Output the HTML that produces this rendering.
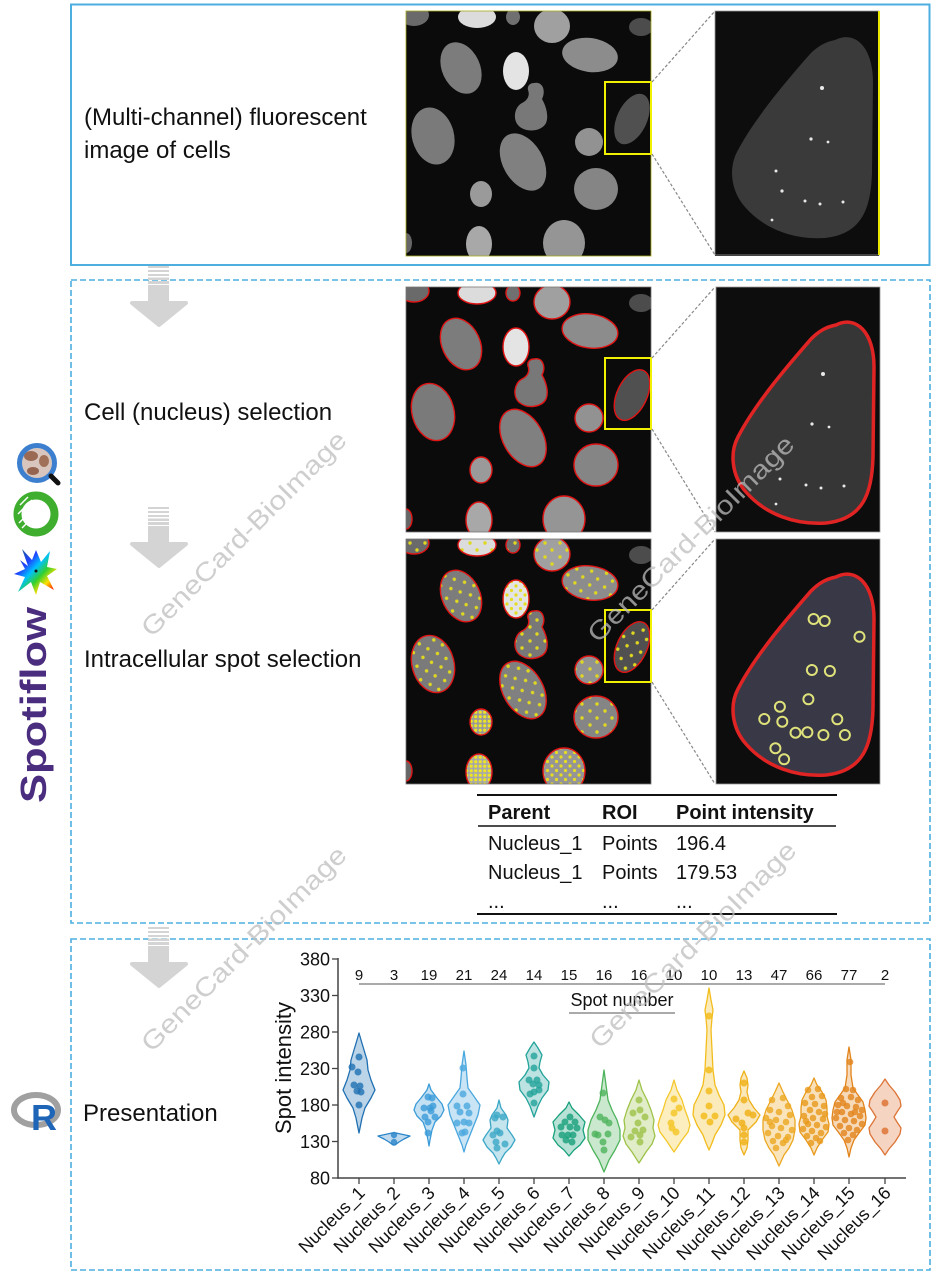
<!DOCTYPE html>
<html><head><meta charset="utf-8"><style>
html,body{margin:0;padding:0;background:#fff;}
svg{display:block;}
text{font-family:"Liberation Sans",Arial,sans-serif;}
</style></head><body>
<svg width="945" height="1278" viewBox="0 0 945 1278" xmlns="http://www.w3.org/2000/svg">
<defs>
<clipPath id="ic"><rect x="0" y="0" width="245" height="245"/></clipPath>
<clipPath id="zc"><rect x="0" y="0" width="164" height="245"/></clipPath>
<ellipse id="s_a" cx="8" cy="4" rx="15" ry="11"/>
<ellipse id="s_b" cx="71" cy="6" rx="19" ry="11"/>
<ellipse id="s_c" cx="107" cy="6" rx="7" ry="8"/>
<ellipse id="s_d" cx="146" cy="15" rx="18" ry="17"/>
<ellipse id="s_e" cx="235" cy="16" rx="12" ry="9"/>
<ellipse id="s_f" cx="55" cy="57" rx="19" ry="27" transform="rotate(-25 55 57)"/>
<ellipse id="s_g" cx="110" cy="60" rx="13" ry="19"/>
<ellipse id="s_h" cx="184" cy="44" rx="28" ry="17" transform="rotate(8 184 44)"/>
<path id="s_i" d="M128,72 C137,70 140,80 136,88 C140,95 143,105 140,112 C136,120 122,122 114,116 C106,110 108,96 116,92 C122,89 124,84 122,79 C121,75 124,72 128,72 Z"/>
<ellipse id="s_j" cx="226" cy="108" rx="15" ry="27" transform="rotate(25 226 108)"/>
<ellipse id="s_k" cx="27" cy="125" rx="21" ry="29" transform="rotate(-15 27 125)"/>
<ellipse id="s_l" cx="183" cy="131" rx="14" ry="14"/>
<ellipse id="s_m" cx="117" cy="151" rx="20" ry="31" transform="rotate(-30 117 151)"/>
<ellipse id="s_n" cx="190" cy="178" rx="22" ry="21"/>
<ellipse id="s_o" cx="75" cy="183" rx="11" ry="13"/>
<ellipse id="s_p" cx="73" cy="233" rx="13" ry="18"/>
<ellipse id="s_q" cx="158" cy="232" rx="21" ry="23"/>
<ellipse id="s_r" cx="0" cy="232" rx="6" ry="10"/>
<pattern id="ysparse" patternUnits="userSpaceOnUse" width="15" height="14"><circle cx="4" cy="4" r="1.7" fill="#e0d820"/><circle cx="11" cy="11" r="1.7" fill="#e0d820"/></pattern>
<pattern id="ymed" patternUnits="userSpaceOnUse" width="9" height="9"><circle cx="2" cy="2" r="1.6" fill="#e6dc20"/><circle cx="6.5" cy="6.5" r="1.6" fill="#e6dc20"/></pattern>
<pattern id="ydense" patternUnits="userSpaceOnUse" width="4.5" height="4.5"><circle cx="2.2" cy="2.2" r="1.6" fill="#ece424"/></pattern>
<g id="fills">
<rect x="0" y="0" width="245" height="245" fill="#0b0b0b"/>
<use href="#s_a" fill="#6a6a6a"/><use href="#s_b" fill="#dcdcdc"/><use href="#s_c" fill="#707070"/>
<use href="#s_d" fill="#a0a0a0"/><use href="#s_e" fill="#4c4c4c"/><use href="#s_f" fill="#7c7c7c"/>
<use href="#s_g" fill="#e4e4e4"/><use href="#s_h" fill="#8c8c8c"/><use href="#s_i" fill="#787878"/>
<use href="#s_j" fill="#505050"/><use href="#s_k" fill="#7a7a7a"/><use href="#s_l" fill="#929292"/>
<use href="#s_m" fill="#808080"/><use href="#s_n" fill="#858585"/><use href="#s_o" fill="#9a9a9a"/>
<use href="#s_p" fill="#a8a8a8"/><use href="#s_q" fill="#959595"/><use href="#s_r" fill="#666666"/>
</g>
<g id="outl" fill="none" stroke="#e01414" stroke-width="1.4">
<use href="#s_a"/><use href="#s_b"/><use href="#s_c"/><use href="#s_d"/><use href="#s_f"/><use href="#s_g"/>
<use href="#s_h"/><use href="#s_i"/><use href="#s_j"/><use href="#s_k"/><use href="#s_l"/><use href="#s_m"/>
<use href="#s_n"/><use href="#s_o"/><use href="#s_p"/><use href="#s_q"/><use href="#s_r"/>
</g>
<g id="ydots">
<use href="#s_a" fill="url(#ysparse)"/><use href="#s_b" fill="url(#ysparse)"/><use href="#s_c" fill="url(#ysparse)"/>
<use href="#s_d" fill="url(#ysparse)"/><use href="#s_f" fill="url(#ysparse)"/><use href="#s_g" fill="url(#ymed)"/>
<use href="#s_h" fill="url(#ysparse)"/><use href="#s_i" fill="url(#ysparse)"/><use href="#s_j" fill="url(#ysparse)"/>
<use href="#s_k" fill="url(#ysparse)"/><use href="#s_l" fill="url(#ysparse)"/><use href="#s_m" fill="url(#ysparse)"/>
<use href="#s_n" fill="url(#ysparse)"/><use href="#s_o" fill="url(#ydense)"/><use href="#s_p" fill="url(#ydense)"/>
<use href="#s_q" fill="url(#ymed)"/>
</g>
<path id="znuc" d="M120,38 C140,28 158,45 158,80 L157,170 C156,205 148,232 110,236 C80,238 50,228 30,205 C15,188 14,165 22,150 C40,115 75,75 95,52 C103,44 110,40 120,38 Z"/>
<linearGradient id="rain" x1="0" y1="0" x2="1" y2="1">
<stop offset="0" stop-color="#1a6a6a"/><stop offset="0.3" stop-color="#2040ff"/><stop offset="0.45" stop-color="#00c0ff"/><stop offset="0.6" stop-color="#30d030"/><stop offset="0.75" stop-color="#ffe000"/><stop offset="0.88" stop-color="#ff3000"/><stop offset="1" stop-color="#ff00c0"/>
</linearGradient>
</defs>

<!-- Boxes -->
<rect x="71" y="4.5" width="858.5" height="260.5" fill="none" stroke="#4daee0" stroke-width="2"/>
<rect x="71" y="280" width="859" height="643" fill="none" stroke="#4daee0" stroke-width="1.6" stroke-dasharray="6 3"/>
<rect x="71" y="939" width="859" height="331" fill="none" stroke="#4daee0" stroke-width="1.6" stroke-dasharray="6 3"/>

<!-- Arrows -->
<g fill="#d4d4d4">
<g transform="translate(0,0)">
<rect x="148" y="266" width="21" height="2"/><rect x="148" y="270" width="21" height="2"/><rect x="148" y="274" width="21" height="2"/><rect x="148" y="277.5" width="21" height="2.5"/><rect x="148" y="281" width="21" height="3"/>
<rect x="148" y="285" width="21" height="19"/>
<path d="M132,303 L186,303 L159,325 Z" stroke="#d4d4d4" stroke-width="4" stroke-linejoin="round"/>
</g>
<g transform="translate(0,241)">
<rect x="148" y="266" width="21" height="2"/><rect x="148" y="270" width="21" height="2"/><rect x="148" y="274" width="21" height="2"/><rect x="148" y="277.5" width="21" height="2.5"/><rect x="148" y="281" width="21" height="3"/>
<rect x="148" y="285" width="21" height="19"/>
<path d="M132,303 L186,303 L159,325 Z" stroke="#d4d4d4" stroke-width="4" stroke-linejoin="round"/>
</g>
<g transform="translate(0,661)">
<rect x="148" y="266" width="21" height="2"/><rect x="148" y="270" width="21" height="2"/><rect x="148" y="274" width="21" height="2"/><rect x="148" y="277.5" width="21" height="2.5"/><rect x="148" y="281" width="21" height="3"/>
<rect x="148" y="285" width="21" height="19"/>
<path d="M132,303 L186,303 L159,325 Z" stroke="#d4d4d4" stroke-width="4" stroke-linejoin="round"/>
</g>
</g>

<!-- Left labels -->
<g font-size="24" fill="#111">
<text x="84" y="125">(Multi-channel) fluorescent</text>
<text x="84" y="158">image of cells</text>
<text x="84" y="420">Cell (nucleus) selection</text>
<text x="84" y="667">Intracellular spot selection</text>
<text x="83" y="1121">Presentation</text>
</g>

<!-- Row images -->
<g transform="translate(406,11)"><g clip-path="url(#ic)"><use href="#fills"/></g>
<rect x="0" y="0" width="245" height="245" fill="none" stroke="#a8a820" stroke-width="0.8"/></g>
<g transform="translate(406,287)"><g clip-path="url(#ic)"><use href="#fills"/><use href="#outl"/></g>
<rect x="0" y="0" width="245" height="245" fill="none" stroke="#777" stroke-width="0.8"/></g>
<g transform="translate(406,539)"><g clip-path="url(#ic)"><use href="#fills"/><use href="#ydots"/><use href="#outl"/></g>
<rect x="0" y="0" width="245" height="245" fill="none" stroke="#777" stroke-width="0.8"/></g>

<!-- yellow rects -->
<g fill="none" stroke="#f0f000" stroke-width="2">
<rect x="605" y="82" width="46" height="72"/>
<rect x="605" y="358" width="46" height="71"/>
<rect x="605" y="610" width="46" height="72"/>
</g>

<!-- connectors -->
<g stroke="#888" stroke-width="1.2" stroke-dasharray="3 2" fill="none">
<line x1="652" y1="82" x2="715" y2="11"/><line x1="652" y1="154" x2="715" y2="255"/>
<line x1="652" y1="358" x2="715" y2="287"/><line x1="652" y1="429" x2="715" y2="532"/>
<line x1="652" y1="610" x2="715" y2="539"/><line x1="652" y1="682" x2="715" y2="784"/>
</g>

<!-- Insets -->
<g transform="translate(715,11)"><g clip-path="url(#zc)">
<rect x="0" y="0" width="164" height="245" fill="#0d0d0d"/>
<use href="#znuc" transform="translate(0,-9)" fill="#3a3a3a"/>
<g fill="#e8e8e8"><circle cx="107" cy="77" r="2"/><circle cx="96" cy="128" r="1.6"/><circle cx="113" cy="131" r="1.4"/><circle cx="61" cy="160" r="1.5"/><circle cx="67" cy="180" r="1.6"/><circle cx="90" cy="190" r="1.5"/><circle cx="105" cy="193" r="1.5"/><circle cx="128" cy="191" r="1.5"/><circle cx="57" cy="209" r="1.4"/></g>
</g>
<rect x="0" y="0" width="164" height="244" fill="none" stroke="#999" stroke-width="0.8"/>
<line x1="164" y1="0" x2="164" y2="244" stroke="#e8e800" stroke-width="2"/></g>

<g transform="translate(716,287)"><g clip-path="url(#zc)">
<rect x="0" y="0" width="164" height="245" fill="#0d0d0d"/>
<use href="#znuc" fill="#363636" stroke="#e02424" stroke-width="3.5"/>
<g fill="#e8e8e8"><circle cx="107" cy="87" r="2"/><circle cx="96" cy="137" r="1.6"/><circle cx="113" cy="140" r="1.4"/><circle cx="64" cy="192" r="1.5"/><circle cx="90" cy="198" r="1.5"/><circle cx="105" cy="201" r="1.5"/><circle cx="128" cy="199" r="1.5"/><circle cx="60" cy="217" r="1.4"/></g>
</g>
<rect x="0" y="0" width="164" height="245" fill="none" stroke="#999" stroke-width="0.8"/></g>

<g transform="translate(716,539)"><g clip-path="url(#zc)">
<rect x="0" y="0" width="164" height="245" fill="#0d0d0d"/>
<use href="#znuc" fill="#383846" stroke="#e02424" stroke-width="3.5"/>
<g fill="none" stroke="#dfe27a" stroke-width="2">
<circle cx="97.6" cy="80" r="5"/><circle cx="108.7" cy="82" r="5"/><circle cx="143.5" cy="97.7" r="5"/>
<circle cx="95.9" cy="131" r="5"/><circle cx="113.9" cy="132" r="5"/><circle cx="92.4" cy="160.3" r="5"/>
<circle cx="63.9" cy="167.7" r="5"/><circle cx="48.3" cy="180" r="5"/><circle cx="66.3" cy="182.7" r="5"/>
<circle cx="79.5" cy="193.7" r="5"/><circle cx="91.4" cy="193.3" r="5"/><circle cx="107.4" cy="196" r="5"/>
<circle cx="121.3" cy="180.3" r="5"/><circle cx="128.9" cy="196" r="5"/><circle cx="59.4" cy="209.3" r="5"/>
<circle cx="68.1" cy="220.3" r="5"/>
</g>
</g>
<rect x="0" y="0" width="164" height="245" fill="none" stroke="#999" stroke-width="0.8"/></g>

<!-- Table -->
<line x1="477" y1="795" x2="837" y2="795" stroke="#111" stroke-width="2"/>
<line x1="478" y1="826" x2="836" y2="826" stroke="#111" stroke-width="1.5"/>
<line x1="477" y1="914" x2="837" y2="914" stroke="#111" stroke-width="2"/>
<g font-size="20" fill="#111">
<text x="488" y="819" font-weight="bold">Parent</text>
<text x="602" y="819" font-weight="bold">ROI</text>
<text x="676" y="819" font-weight="bold">Point intensity</text>
<text x="488" y="850">Nucleus_1</text><text x="602" y="850">Points</text><text x="676" y="850">196.4</text>
<text x="488" y="879">Nucleus_1</text><text x="602" y="879">Points</text><text x="676" y="879">179.53</text>
<text x="488" y="908">...</text><text x="602" y="908">...</text><text x="676" y="908">...</text>
</g>

<!-- Left icons -->
<g>
<circle cx="37" cy="463" r="17.5" fill="#d8c6be"/>
<ellipse cx="31" cy="456" rx="7" ry="5" fill="#9a6a55"/>
<ellipse cx="44" cy="461" rx="5" ry="6" fill="#a07058"/>
<ellipse cx="33" cy="471" rx="6" ry="4" fill="#946450"/>
<circle cx="37" cy="463" r="17.5" fill="none" stroke="#3c7fcf" stroke-width="5"/>
<line x1="51" y1="476" x2="58" y2="483" stroke="#111" stroke-width="5" stroke-linecap="round"/>
<circle cx="36" cy="514" r="18.5" fill="none" stroke="#3fae2e" stroke-width="8"/>
<path d="M20,505 L28,497 M18,514 L32,500 M19,523 L28,514 M22,528 L26,524" stroke="#fff" stroke-width="1.5"/>
<path d="M20,560 L28,566 L22,549 L32,560 L36,550 L41,562 L50,551 L47,567 L57,569 L47,576 L54,590 L40,582 L36,595 L31,582 L18,592 L25,577 L14,574 L25,569 Z" fill="url(#rain)"/>
<circle cx="36" cy="571" r="1.5" fill="#111"/>
<text transform="translate(46,803) rotate(-90)" font-size="36" font-weight="bold" fill="#4b2d7f" textLength="196" lengthAdjust="spacingAndGlyphs">Spotiflow</text>
<ellipse cx="36" cy="1110" rx="22" ry="15" fill="none" stroke="#a0a0a0" stroke-width="6"/>
<text x="31" y="1130" font-size="36" font-weight="bold" fill="#1f65b7">R</text>
</g>

<!-- Chart -->
<g>
<line x1="338" y1="958" x2="338" y2="1178.7" stroke="#444" stroke-width="1.5"/>
<line x1="337.3" y1="1178" x2="906" y2="1178" stroke="#444" stroke-width="1.5"/>
<g stroke="#444" stroke-width="1.3">
<line x1="332" y1="959" x2="338" y2="959"/><line x1="332" y1="995.5" x2="338" y2="995.5"/><line x1="332" y1="1032" x2="338" y2="1032"/>
<line x1="332" y1="1068.5" x2="338" y2="1068.5"/><line x1="332" y1="1105" x2="338" y2="1105"/><line x1="332" y1="1141.5" x2="338" y2="1141.5"/><line x1="332" y1="1178" x2="338" y2="1178"/>
<line x1="359" y1="1178" x2="359" y2="1184"/><line x1="394" y1="1178" x2="394" y2="1184"/><line x1="429" y1="1178" x2="429" y2="1184"/><line x1="464" y1="1178" x2="464" y2="1184"/>
<line x1="499" y1="1178" x2="499" y2="1184"/><line x1="534" y1="1178" x2="534" y2="1184"/><line x1="569" y1="1178" x2="569" y2="1184"/><line x1="604" y1="1178" x2="604" y2="1184"/>
<line x1="639" y1="1178" x2="639" y2="1184"/><line x1="674" y1="1178" x2="674" y2="1184"/><line x1="709" y1="1178" x2="709" y2="1184"/><line x1="744" y1="1178" x2="744" y2="1184"/>
<line x1="779" y1="1178" x2="779" y2="1184"/><line x1="814" y1="1178" x2="814" y2="1184"/><line x1="849" y1="1178" x2="849" y2="1184"/><line x1="885" y1="1178" x2="885" y2="1184"/>
</g>
<g font-size="18" fill="#111" text-anchor="end">
<text x="330" y="965.5">380</text><text x="330" y="1002">330</text><text x="330" y="1038.5">280</text>
<text x="330" y="1075">230</text><text x="330" y="1111.5">180</text><text x="330" y="1148">130</text><text x="330" y="1184.5">80</text>
</g>
<text transform="translate(291,1068) rotate(-90)" font-size="22" fill="#111" text-anchor="middle">Spot intensity</text>
<g font-size="15" fill="#111" text-anchor="middle">
<text x="359" y="980">9</text><text x="394" y="980">3</text><text x="429" y="980">19</text><text x="464" y="980">21</text>
<text x="499" y="980">24</text><text x="534" y="980">14</text><text x="569" y="980">15</text><text x="604" y="980">16</text>
<text x="639" y="980">16</text><text x="674" y="980">10</text><text x="709" y="980">10</text><text x="744" y="980">13</text>
<text x="779" y="980">47</text><text x="814" y="980">66</text><text x="849" y="980">77</text><text x="885" y="980">2</text>
</g>
<line x1="359" y1="984" x2="885" y2="984" stroke="#aaa" stroke-width="2"/>
<text x="622" y="1006" font-size="18" fill="#111" text-anchor="middle">Spot number</text>
<line x1="569" y1="1013" x2="675" y2="1013" stroke="#aaa" stroke-width="2"/>
<g font-size="18" fill="#111" text-anchor="end">
<text transform="translate(366,1194) rotate(-45)">Nucleus_1</text>
<text transform="translate(401,1194) rotate(-45)">Nucleus_2</text>
<text transform="translate(436,1194) rotate(-45)">Nucleus_3</text>
<text transform="translate(471,1194) rotate(-45)">Nucleus_4</text>
<text transform="translate(506,1194) rotate(-45)">Nucleus_5</text>
<text transform="translate(541,1194) rotate(-45)">Nucleus_6</text>
<text transform="translate(576,1194) rotate(-45)">Nucleus_7</text>
<text transform="translate(611,1194) rotate(-45)">Nucleus_8</text>
<text transform="translate(646,1194) rotate(-45)">Nucleus_9</text>
<text transform="translate(681,1194) rotate(-45)">Nucleus_10</text>
<text transform="translate(716,1194) rotate(-45)">Nucleus_11</text>
<text transform="translate(751,1194) rotate(-45)">Nucleus_12</text>
<text transform="translate(786,1194) rotate(-45)">Nucleus_13</text>
<text transform="translate(821,1194) rotate(-45)">Nucleus_14</text>
<text transform="translate(856,1194) rotate(-45)">Nucleus_15</text>
<text transform="translate(892,1194) rotate(-45)">Nucleus_16</text>
</g>

<!-- Violins -->
<g stroke-width="1.3" stroke-linejoin="round">
<g stroke="#1f6fb2" fill="#1f6fb2"><polygon fill-opacity="0.3" points="359,1033 361,1040 364,1050 367,1060 368,1070 371,1080 375,1090 371,1098 365,1108 362,1118 359,1133 356,1118 353,1108 347,1098 343,1090 347,1080 350,1070 351,1060 354,1050 357,1040"/>
<g stroke="none" fill-opacity="0.8"><circle cx="359" cy="1057" r="3.5"/><circle cx="352" cy="1067" r="3.5"/><circle cx="358" cy="1072" r="3.5"/><circle cx="354" cy="1085" r="3.5"/><circle cx="360" cy="1086" r="3.5"/><circle cx="357" cy="1091" r="3.5"/><circle cx="361" cy="1092" r="3.5"/><circle cx="359" cy="1105" r="3.5"/></g></g>

<g stroke="#2a85c9" fill="#2a85c9"><polygon fill-opacity="0.3" points="396,1133 410,1136 404,1139 399,1142 395,1145 393,1145 389,1142 384,1139 378,1136 392,1133"/>
<g stroke="none" fill-opacity="0.8"><circle cx="394" cy="1135" r="3.2"/><circle cx="394" cy="1142" r="3.2"/></g></g>

<g stroke="#3b9bd8" fill="#3b9bd8"><polygon fill-opacity="0.3" points="429,1084 431,1090 437,1098 442,1104 444,1110 441,1116 435,1122 432,1130 430,1140 429,1146 428,1140 426,1130 423,1122 417,1116 414,1110 416,1104 421,1098 427,1090"/>
<g stroke="none" fill-opacity="0.8"><circle cx="428" cy="1097" r="3.5"/><circle cx="432" cy="1098" r="3.5"/><circle cx="424" cy="1108" r="3.5"/><circle cx="430" cy="1108" r="3.5"/><circle cx="433" cy="1106" r="3.5"/><circle cx="425" cy="1117" r="3.5"/><circle cx="435" cy="1117" r="3.5"/><circle cx="428" cy="1122" r="3.5"/><circle cx="428" cy="1133" r="3.5"/><circle cx="431" cy="1111" r="3.5"/></g></g>

<g stroke="#4aa7de" fill="#4aa7de"><polygon fill-opacity="0.3" points="464,1051 466,1065 467,1078 468,1088 473,1095 480,1105 478,1115 474,1125 470,1135 466,1145 464,1152 462,1145 458,1135 454,1125 450,1115 448,1105 455,1095 460,1088 461,1078 462,1065"/>
<g stroke="none" fill-opacity="0.8"><circle cx="463" cy="1068" r="3.5"/><circle cx="463" cy="1094" r="3.5"/><circle cx="457" cy="1106" r="3.5"/><circle cx="467" cy="1106" r="3.5"/><circle cx="460" cy="1112" r="3.5"/><circle cx="469" cy="1113" r="3.5"/><circle cx="457" cy="1123" r="3.5"/><circle cx="464" cy="1122" r="3.5"/><circle cx="469" cy="1123" r="3.5"/><circle cx="462" cy="1133" r="3.5"/><circle cx="465" cy="1132" r="3.5"/></g></g>

<g stroke="#3ba7c6" fill="#3ba7c6"><polygon fill-opacity="0.3" points="499,1100 501,1108 506,1115 508,1120 507,1128 512,1135 515,1140 511,1147 505,1153 502,1158 499,1164 496,1158 493,1153 487,1147 483,1140 486,1135 491,1128 490,1120 492,1115 497,1108"/>
<g stroke="none" fill-opacity="0.8"><circle cx="497" cy="1115" r="3.5"/><circle cx="495" cy="1118" r="3.5"/><circle cx="503" cy="1117" r="3.5"/><circle cx="497" cy="1131" r="3.5"/><circle cx="500" cy="1133" r="3.5"/><circle cx="493" cy="1135" r="3.5"/><circle cx="505" cy="1144" r="3.5"/><circle cx="496" cy="1142" r="3.5"/><circle cx="497" cy="1148" r="3.5"/></g></g>

<g stroke="#22a39a" fill="#22a39a"><polygon fill-opacity="0.3" points="534,1042 538,1048 542,1055 540,1062 539,1068 543,1075 549,1082 548,1090 542,1098 538,1106 534,1117 530,1106 526,1098 520,1090 519,1082 525,1075 529,1068 528,1062 526,1055 530,1048"/>
<g stroke="none" fill-opacity="0.8"><circle cx="534" cy="1056" r="3.5"/><circle cx="534" cy="1068" r="3.5"/><circle cx="529" cy="1080" r="3.5"/><circle cx="537" cy="1080" r="3.5"/><circle cx="533" cy="1084" r="3.5"/><circle cx="539" cy="1085" r="3.5"/><circle cx="530" cy="1094" r="3.5"/><circle cx="534" cy="1092" r="3.5"/><circle cx="539" cy="1090" r="3.5"/><circle cx="534" cy="1103" r="3.5"/></g></g>

<g stroke="#16a07a" fill="#16a07a"><polygon fill-opacity="0.3" points="569,1102 572,1108 579,1115 585,1122 583,1130 585,1138 580,1145 574,1150 569,1156 564,1150 558,1145 553,1138 555,1130 553,1122 559,1115 566,1108"/>
<g stroke="none" fill-opacity="0.8"><circle cx="565" cy="1122" r="3.5"/><circle cx="570" cy="1117" r="3.5"/><circle cx="575" cy="1122" r="3.5"/><circle cx="561" cy="1127" r="3.5"/><circle cx="570" cy="1127" r="3.5"/><circle cx="577" cy="1128" r="3.5"/><circle cx="562" cy="1135" r="3.5"/><circle cx="568" cy="1135" r="3.5"/><circle cx="573" cy="1135" r="3.5"/><circle cx="566" cy="1140" r="3.5"/><circle cx="572" cy="1142" r="3.5"/></g></g>

<g stroke="#4db35b" fill="#4db35b"><polygon fill-opacity="0.3" points="604,1070 606,1085 608,1100 612,1110 617,1120 620,1130 620,1140 615,1150 609,1160 604,1172 599,1160 593,1150 588,1140 588,1130 591,1120 596,1110 600,1100 602,1085"/>
<g stroke="none" fill-opacity="0.8"><circle cx="603" cy="1093" r="3.5"/><circle cx="600" cy="1117" r="3.5"/><circle cx="605" cy="1120" r="3.5"/><circle cx="609" cy="1123" r="3.5"/><circle cx="598" cy="1135" r="3.5"/><circle cx="608" cy="1134" r="3.5"/><circle cx="603" cy="1142" r="3.5"/><circle cx="604" cy="1150" r="3.5"/><circle cx="595" cy="1134" r="3.5"/></g></g>

<g stroke="#9dc248" fill="#9dc248"><polygon fill-opacity="0.3" points="639,1080 642,1090 647,1100 651,1110 654,1120 653,1128 655,1136 652,1144 646,1152 639,1163 632,1152 626,1144 623,1136 625,1128 624,1120 627,1110 631,1100 636,1090"/>
<g stroke="none" fill-opacity="0.8"><circle cx="639" cy="1100" r="3.5"/><circle cx="633" cy="1113" r="3.5"/><circle cx="640" cy="1110" r="3.5"/><circle cx="645" cy="1117" r="3.5"/><circle cx="638" cy="1123" r="3.5"/><circle cx="635" cy="1131" r="3.5"/><circle cx="643" cy="1130" r="3.5"/><circle cx="631" cy="1137" r="3.5"/><circle cx="640" cy="1135" r="3.5"/><circle cx="640" cy="1142" r="3.5"/></g></g>

<g stroke="#f4c72a" fill="#f4c72a"><polygon fill-opacity="0.3" points="674,1080 677,1090 682,1100 685,1110 688,1118 690,1125 688,1132 682,1140 678,1146 674,1152 670,1146 666,1140 660,1132 658,1125 660,1118 663,1110 666,1100 671,1090"/>
<g stroke="none" fill-opacity="0.85"><circle cx="674" cy="1099" r="3.5"/><circle cx="679" cy="1108" r="3.5"/><circle cx="674" cy="1113" r="3.5"/><circle cx="671" cy="1123" r="3.5"/><circle cx="672" cy="1128" r="3.5"/><circle cx="676" cy="1132" r="3.5"/></g></g>

<g stroke="#f2bd1c" fill="#f2bd1c"><polygon fill-opacity="0.3" points="709,988 711,1000 713,1010 712,1018 711,1030 712,1050 713,1070 715,1085 719,1095 724,1105 725,1115 721,1125 715,1135 712,1143 709,1150 706,1143 703,1135 697,1125 693,1115 694,1105 699,1095 703,1085 705,1070 706,1050 707,1030 706,1018 705,1010 707,1000"/>
<g stroke="none" fill-opacity="0.85"><circle cx="709" cy="1016" r="3.5"/><circle cx="709" cy="1070" r="3.5"/><circle cx="709" cy="1091" r="3.5"/><circle cx="709" cy="1106" r="3.5"/><circle cx="704" cy="1116" r="3.5"/><circle cx="715" cy="1116" r="3.5"/><circle cx="710" cy="1122" r="3.5"/></g></g>

<g stroke="#efb11a" fill="#efb11a"><polygon fill-opacity="0.3" points="744,1071 747,1078 748,1085 747,1092 749,1100 754,1108 760,1115 756,1122 748,1130 748,1140 747,1148 744,1155 741,1148 740,1140 740,1130 732,1122 728,1115 734,1108 739,1100 741,1092 740,1085 741,1078"/>
<g stroke="none" fill-opacity="0.85"><circle cx="744" cy="1083" r="3.5"/><circle cx="744" cy="1100" r="3.5"/><circle cx="736" cy="1119" r="3.5"/><circle cx="742" cy="1123" r="3.5"/><circle cx="748" cy="1113" r="3.5"/><circle cx="753" cy="1115" r="3.5"/><circle cx="744" cy="1128" r="3.5"/><circle cx="744" cy="1135" r="3.5"/><circle cx="744" cy="1142" r="3.5"/></g></g>

<g stroke="#eca720" fill="#eca720"><polygon fill-opacity="0.3" points="779,1083 783,1092 787,1100 792,1110 795,1120 795,1130 793,1140 789,1148 784,1155 779,1166 774,1155 769,1148 765,1140 763,1130 763,1120 766,1110 771,1100 775,1092"/>
<g stroke="none" fill-opacity="0.8"><circle cx="772" cy="1100" r="3.3"/><circle cx="783" cy="1098" r="3.3"/><circle cx="788" cy="1106" r="3.3"/><circle cx="770" cy="1110" r="3.3"/><circle cx="779" cy="1112" r="3.3"/><circle cx="790" cy="1115" r="3.3"/><circle cx="766" cy="1118" r="3.3"/><circle cx="776" cy="1120" r="3.3"/><circle cx="786" cy="1122" r="3.3"/><circle cx="772" cy="1126" r="3.3"/><circle cx="781" cy="1128" r="3.3"/><circle cx="792" cy="1130" r="3.3"/><circle cx="768" cy="1133" r="3.3"/><circle cx="778" cy="1136" r="3.3"/><circle cx="788" cy="1137" r="3.3"/><circle cx="773" cy="1141" r="3.3"/><circle cx="783" cy="1143" r="3.3"/><circle cx="776" cy="1148" r="3.3"/><circle cx="770" cy="1122" r="3.3"/><circle cx="786" cy="1140" r="3.3"/></g></g>

<g stroke="#e8991a" fill="#e8991a"><polygon fill-opacity="0.3" points="814,1078 817,1085 822,1092 826,1100 827,1108 827,1116 829,1124 828,1132 822,1140 817,1148 814,1155 811,1148 806,1140 800,1132 799,1124 801,1116 801,1108 802,1100 806,1092 811,1085"/>
<g stroke="none" fill-opacity="0.8"><circle cx="808" cy="1090" r="3.3"/><circle cx="818" cy="1089" r="3.3"/><circle cx="812" cy="1097" r="3.3"/><circle cx="822" cy="1096" r="3.3"/><circle cx="805" cy="1103" r="3.3"/><circle cx="815" cy="1104" r="3.3"/><circle cx="824" cy="1106" r="3.3"/><circle cx="810" cy="1110" r="3.3"/><circle cx="819" cy="1112" r="3.3"/><circle cx="804" cy="1116" r="3.3"/><circle cx="813" cy="1118" r="3.3"/><circle cx="823" cy="1119" r="3.3"/><circle cx="808" cy="1124" r="3.3"/><circle cx="817" cy="1125" r="3.3"/><circle cx="826" cy="1127" r="3.3"/><circle cx="803" cy="1129" r="3.3"/><circle cx="812" cy="1131" r="3.3"/><circle cx="821" cy="1133" r="3.3"/><circle cx="807" cy="1136" r="3.3"/><circle cx="816" cy="1138" r="3.3"/><circle cx="811" cy="1143" r="3.3"/><circle cx="820" cy="1141" r="3.3"/><circle cx="806" cy="1121" r="3.3"/><circle cx="825" cy="1114" r="3.3"/></g></g>

<g stroke="#e2831a" fill="#e2831a"><polygon fill-opacity="0.3" points="849,1047 851,1060 851,1075 853,1088 858,1095 863,1102 865,1110 866,1118 865,1125 859,1133 854,1140 851,1148 849,1157 847,1148 844,1140 839,1133 833,1125 832,1118 833,1110 835,1102 840,1095 845,1088 847,1075 847,1060"/>
<g stroke="none" fill-opacity="0.8"><circle cx="846" cy="1089" r="3.3"/><circle cx="853" cy="1090" r="3.3"/><circle cx="841" cy="1098" r="3.3"/><circle cx="851" cy="1097" r="3.3"/><circle cx="858" cy="1100" r="3.3"/><circle cx="838" cy="1105" r="3.3"/><circle cx="847" cy="1106" r="3.3"/><circle cx="856" cy="1107" r="3.3"/><circle cx="862" cy="1110" r="3.3"/><circle cx="842" cy="1112" r="3.3"/><circle cx="851" cy="1114" r="3.3"/><circle cx="860" cy="1116" r="3.3"/><circle cx="836" cy="1118" r="3.3"/><circle cx="845" cy="1120" r="3.3"/><circle cx="854" cy="1121" r="3.3"/><circle cx="862" cy="1124" r="3.3"/><circle cx="840" cy="1126" r="3.3"/><circle cx="849" cy="1128" r="3.3"/><circle cx="857" cy="1130" r="3.3"/><circle cx="844" cy="1133" r="3.3"/><circle cx="853" cy="1135" r="3.3"/><circle cx="848" cy="1140" r="3.3"/><circle cx="837" cy="1112" r="3.3"/><circle cx="855" cy="1112" r="3.3"/><circle cx="843" cy="1103" r="3.3"/><circle cx="850" cy="1062" r="3.3"/></g></g>

<g stroke="#dd7436" fill="#dd7436"><polygon fill-opacity="0.3" points="885,1079 889,1085 895,1092 900,1100 901,1106 897,1112 894,1117 897,1122 901,1128 900,1134 895,1142 889,1149 885,1155 881,1149 875,1142 870,1134 869,1128 873,1122 876,1117 873,1112 869,1106 870,1100 875,1092 881,1085"/>
<g stroke="none" fill-opacity="0.85"><circle cx="885" cy="1103" r="3.5"/><circle cx="885" cy="1131" r="3.5"/></g></g>
</g>
</g>

<!-- Watermarks -->
<g font-size="26" fill="#bdbdbd" fill-opacity="0.75" text-anchor="middle">
<text transform="translate(250,540) rotate(-45)" textLength="278" lengthAdjust="spacingAndGlyphs">GeneCard-BioImage</text>
<text transform="translate(697,545) rotate(-45)" textLength="280" lengthAdjust="spacingAndGlyphs">GeneCard-BioImage</text>
<text transform="translate(250,955) rotate(-45)" textLength="278" lengthAdjust="spacingAndGlyphs">GeneCard-BioImage</text>
<text transform="translate(699,951) rotate(-45)" textLength="280" lengthAdjust="spacingAndGlyphs">GeneCard-BioImage</text>
</g>
</svg>
</body></html>
